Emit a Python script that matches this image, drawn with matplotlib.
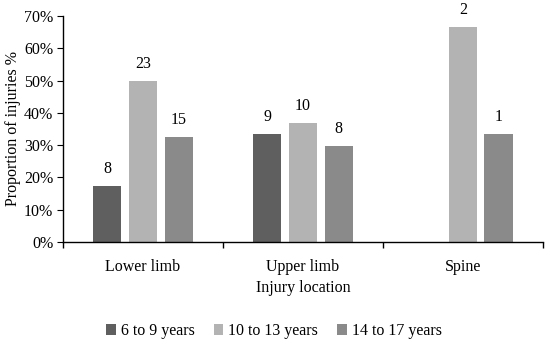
import matplotlib
matplotlib.use("Agg")
import matplotlib.pyplot as plt
import numpy as np
from matplotlib.ticker import FixedLocator, PercentFormatter

categories = ["Lower limb", "Upper limb", "Spine"]
series_names = ["6 to 9 years", "10 to 13 years", "14 to 17 years"]
counts = [
    [8, 9, 0],
    [23, 10, 2],
    [15, 8, 1],
]
percents = [
    [17.4, 33.3, 0.0],
    [50.0, 37.0, 66.7],
    [32.6, 29.6, 33.3],
]
colors = ["#5f5f5f", "#b3b3b3", "#8a8a8a"]

plt.rcParams['font.family'] = ['Liberation Serif', 'DejaVu Serif']
fs = 11.5

fig = plt.figure(figsize=(5.5, 3.45), dpi=100)
ax = fig.add_axes([0.1145, 0.2986, 0.8725, 0.655])

x = np.arange(len(categories))
width = 0.176
step = 0.223
for i, (name, vals, cnts, c) in enumerate(zip(series_names, percents, counts, colors)):
    pos = x + (i - 1) * step
    bars = ax.bar(pos, vals, width=width, color=c, label=name)
    for p, v, n in zip(pos, vals, cnts):
        if n > 0:
            ax.text(p, v + 2.8, str(n), ha='center', va='bottom', fontsize=fs)

ax.set_xlim(-0.5, 2.5)
ax.set_ylim(0, 70)
ax.yaxis.set_major_locator(FixedLocator(np.arange(0, 71, 10)))
ax.yaxis.set_major_formatter(PercentFormatter(decimals=0))
ax.set_xticks([-0.5, 0.5, 1.5, 2.5])
ax.set_xticklabels([])
ax.set_xticks(x, minor=True)
ax.set_xticklabels(categories, minor=True)
ax.tick_params(axis='x', which='minor', length=0, pad=12, labelsize=fs)
ax.tick_params(axis='x', which='major', length=4, direction='out', width=1)
ax.tick_params(axis='y', length=4, direction='out', labelsize=fs, pad=3)
for s in ['top', 'right']:
    ax.spines[s].set_visible(False)
ax.spines['left'].set_linewidth(1)
ax.spines['bottom'].set_linewidth(1)

ax.set_ylabel("Proportion of injuries %", fontsize=fs, labelpad=2)
ax.set_xlabel("Injury location", fontsize=fs, labelpad=4)

fig.legend(loc='center', bbox_to_anchor=(0.498, 0.04), ncol=3, frameon=False,
           fontsize=fs, handlelength=0.6, handleheight=0.6, handletextpad=0.3,
           columnspacing=1.2)

fig.savefig("out.png", dpi=100)
